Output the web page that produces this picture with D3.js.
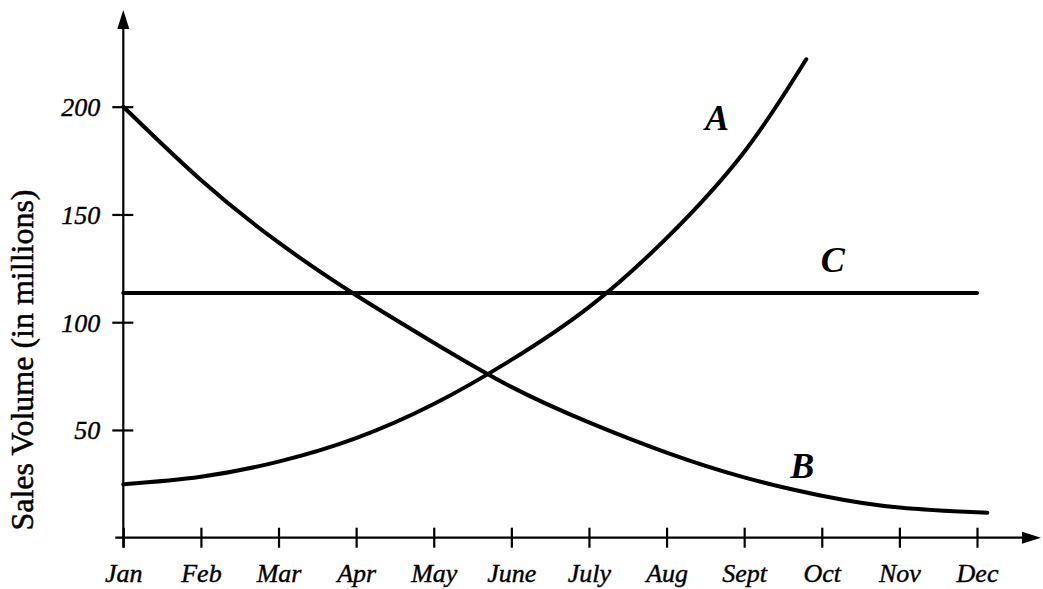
<!DOCTYPE html>
<html>
<head>
<meta charset="utf-8">
<script src="https://cdn.jsdelivr.net/npm/d3@7"></script>
<style>
  body { margin: 0; background: #fff; }
  text { font-family: "Liberation Serif", "Times New Roman", serif; fill: #000; }
</style>
</head>
<body>
<div id="my_dataviz"></div>
<script>
// months on the x axis (millions)
const months = ["Jan", "Feb", "Mar", "Apr", "May", "June", "July", "Aug", "Sept", "Oct", "Nov", "Dec"];
const yTicks = [50, 100, 150, 200];

// curve A stops between Sept and Oct
const aMonth = [0, 1, 2, 3, 4, 5, 6, 7, 8, 8.8];
const aValues = [24.8, 28.3, 35.3, 46.2, 62, 82.5, 107, 139, 179, 222];

const bMonth = [0, 1, 2, 3, 4, 5, 6, 7, 8, 9, 10, 11, 11.08];
const bValues = [200, 166, 137, 112.5, 90.5, 70, 53.5, 39.5, 28, 19.5, 14, 11.8, 11.7];

const cMonth = [0, 11];
const cValues = [113.5, 113.5];

const seriesNames = ["A", "B", "C"];
const labelMonth = [7.65, 8.75, 9.14];
const labelValue = [195, 33.7, 129];

const width = 1043
const height = 589

document.addEventListener('DOMContentLoaded', function () {
    var svg = d3.select("#my_dataviz").append("svg")
        .attr("width", width)
        .attr("height", height);

    var xScale = d3.scaleLinear().domain([0, 11]).range([123.3, 977]);
    var yScale = d3.scaleLinear().domain([0, 200]).range([537.7, 106.7]);

    // x axis with ticks crossing the line
    var xAxis = svg.append("g")
        .attr("class", "x_axis")
        .attr("transform", "translate(0," + yScale(0) + ")")
        .call(d3.axisBottom(xScale).tickValues(d3.range(months.length)).tickFormat(function(i){ return months[i]; }));
    xAxis.select(".domain").remove();
    xAxis.selectAll(".tick line")
        .attr("y1", -10).attr("y2", 10)
        .attr("stroke", "#000").attr("stroke-width", 2.2);
    xAxis.selectAll(".tick text")
        .attr("y", 44).attr("dy", 0)
        .attr("font-size", "26px")
        .attr("font-style", "italic")
        .attr("font-family", "Liberation Serif, serif")
        .attr("fill", "#000")
        .attr("stroke", "#000").attr("stroke-width", 0.4);

    var yAxis = svg.append("g")
        .attr("class", "y_axis")
        .attr("transform", "translate(" + xScale(0) + ",0)")
        .call(d3.axisLeft(yScale).tickValues(yTicks));
    yAxis.select(".domain").remove();
    yAxis.selectAll(".tick line")
        .attr("x1", -11).attr("x2", 10)
        .attr("stroke", "#000").attr("stroke-width", 2.2);
    yAxis.selectAll(".tick text")
        .attr("x", -23).attr("dy", "0.34em")
        .attr("font-size", "26px")
        .attr("font-style", "italic")
        .attr("font-family", "Liberation Serif, serif")
        .attr("fill", "#000")
        .attr("stroke", "#000").attr("stroke-width", 0.4);

    // axis lines with arrow heads
    svg.append("line")
        .attr("x1", xScale(0)).attr("x2", xScale(0))
        .attr("y1", yScale(0) + 10).attr("y2", 20)
        .attr("stroke", "#000").attr("stroke-width", 2.2);
    svg.append("path")
        .attr("d", "M" + xScale(0) + ",10L" + (xScale(0) - 6) + ",29L" + (xScale(0) + 6) + ",29Z")
        .attr("fill", "#000");

    svg.append("line")
        .attr("x1", xScale(0) - 8).attr("x2", 1030)
        .attr("y1", yScale(0)).attr("y2", yScale(0))
        .attr("stroke", "#000").attr("stroke-width", 2.2);
    svg.append("path")
        .attr("d", "M1041," + yScale(0) + "L1022," + (yScale(0) - 6) + "L1022," + (yScale(0) + 6) + "Z")
        .attr("fill", "#000");

    svg.append("text")
        .attr("class", "y_label")
        .attr("transform", "translate(33," + 360 + ") rotate(-90)")
        .attr("text-anchor", "middle")
        .attr("font-size", "32px")
        .attr("stroke", "#000").attr("stroke-width", 0.5)
        .text("Sales Volume (in millions)");

    // the three curves
    var line = d3.line()
        .x(function(d){ return xScale(d[0]); })
        .y(function(d){ return yScale(d[1]); })
        .curve(d3.curveNatural);

    var series = [
        d3.zip(aMonth, aValues),
        d3.zip(bMonth, bValues),
        d3.zip(cMonth, cValues)
    ];

    svg.selectAll("path.curve")
        .data(series)
        .join("path")
            .attr("class", "curve")
            .attr("d", line)
            .attr("fill", "none")
            .attr("stroke", "#000")
            .attr("stroke-width", 4)
            .attr("stroke-linecap", "round");

    svg.selectAll("text.curve_label")
        .data(seriesNames)
        .join("text")
            .attr("class", "curve_label")
            .attr("x", function(d, i){ return xScale(labelMonth[i]); })
            .attr("y", function(d, i){ return yScale(labelValue[i]); })
            .attr("dy", "0.35em")
            .attr("text-anchor", "middle")
            .attr("font-size", "36px")
            .attr("font-weight", "bold")
            .attr("font-style", "italic")
            .text(function(d){ return d; });
});
</script>
</body>
</html>
